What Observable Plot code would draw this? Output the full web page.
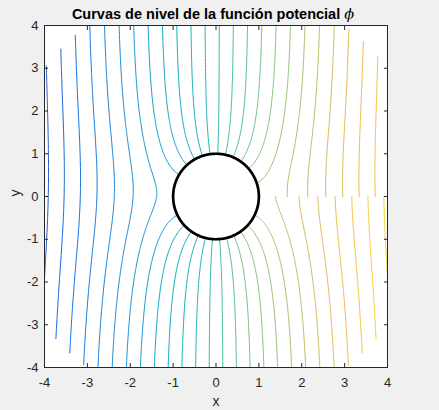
<!DOCTYPE html>
<html><head><meta charset="utf-8">
<script src="https://cdn.jsdelivr.net/npm/d3@7"></script>
<script src="https://cdn.jsdelivr.net/npm/@observablehq/plot@0.6"></script>
<style>
html,body{margin:0;padding:0;background:#f0f0f0;}
#chart svg{display:block;}
</style></head><body><div id="chart"></div>
<script>
// ---- texts & ticks ----
const title = "Curvas de nivel de la función potencial ϕ";
const xLabel = "x";
const yLabel = "y";
const xTicks = [-4, -3, -2, -1, 0, 1, 2, 3, 4];
const yTicks = [-4, -3, -2, -1, 0, 1, 2, 3, 4];
const xDomain = [-4, 4];
const yDomain = [-4, 4];

// ---- contour levels (30 levels) ----
const levels = [-4.605, -4.262, -3.918, -3.575, -3.231, -2.888, -2.544, -2.201, -1.857, -1.514,
  -1.170, -0.827, -0.483, -0.140, 0.204, 0.547, 0.891, 1.234, 1.578, 1.921,
  2.265, 2.608, 2.952, 3.295, 3.638, 3.982, 4.325, 4.669, 5.013, 5.356];
const colorLimits = [-4.949, 5.7];

// ---- potential flow around a cylinder with circulation (polar grid) ----
const U = 1, a = 1, Gamma = 0.5, rMin = 1, rMax = 5;
const nR = 121, nT = 481;

// parula colormap stops
const parula = [[0.2081,0.1663,0.5292],[0.2081,0.2386,0.6771],[0.1253,0.3242,0.8303],[0.0060,0.4086,0.8828],
  [0.0498,0.4586,0.8641],[0.0779,0.5040,0.8384],[0.0641,0.5570,0.8240],[0.0265,0.6137,0.8135],
  [0.0228,0.6535,0.7768],[0.0590,0.6838,0.7254],[0.1453,0.7098,0.6646],[0.2586,0.7317,0.5954],
  [0.3953,0.7459,0.5244],[0.5300,0.7491,0.4661],[0.6473,0.7456,0.4188],[0.7525,0.7384,0.3768],
  [0.8507,0.7299,0.3360],[0.9450,0.7261,0.2886],[0.9990,0.7653,0.2164],[0.9789,0.8271,0.1633],
  [0.9589,0.8949,0.1132],[0.9763,0.9831,0.0538]].map(([r,g,b]) => d3.rgb(r*255, g*255, b*255).formatHex());

const R = d3.range(nR).map(i => rMin + (rMax - rMin) * i / (nR - 1));
const T = d3.range(nT).map(j => 2 * Math.PI * j / (nT - 1));
const phi = (r, t) => U * (r + a * a / r) * Math.cos(t) + Gamma * t / (2 * Math.PI);
const V = T.map(t => R.map(r => phi(r, t)));

function contourLines(level) {
  const pts = new Map(), adj = new Map();
  const edge = (key, i0, j0, i1, j1) => {
    if (!pts.has(key)) {
      const v0 = V[j0][i0], v1 = V[j1][i1], s = (level - v0) / (v1 - v0);
      const r = R[i0] + (R[i1] - R[i0]) * s, t = T[j0] + (T[j1] - T[j0]) * s;
      pts.set(key, [r * Math.cos(t), r * Math.sin(t)]);
    }
    return key;
  };
  const link = (k1, k2) => {
    if (!adj.has(k1)) adj.set(k1, []);
    if (!adj.has(k2)) adj.set(k2, []);
    adj.get(k1).push(k2); adj.get(k2).push(k1);
  };
  for (let j = 0; j < nT - 1; j++) for (let i = 0; i < nR - 1; i++) {
    const v00 = V[j][i], v10 = V[j][i+1], v11 = V[j+1][i+1], v01 = V[j+1][i];
    const e = [];
    if ((v00 > level) !== (v10 > level)) e.push(edge(`h${i},${j}`, i, j, i+1, j));
    if ((v10 > level) !== (v11 > level)) e.push(edge(`v${i+1},${j}`, i+1, j, i+1, j+1));
    if ((v01 > level) !== (v11 > level)) e.push(edge(`h${i},${j+1}`, i, j+1, i+1, j+1));
    if ((v00 > level) !== (v01 > level)) e.push(edge(`v${i},${j}`, i, j, i, j+1));
    if (e.length === 2) link(e[0], e[1]);
    else if (e.length === 4) {
      const c = (v00 + v10 + v11 + v01) / 4;
      if ((c > level) === (v00 > level)) { link(e[0], e[1]); link(e[2], e[3]); }
      else { link(e[0], e[3]); link(e[1], e[2]); }
    }
  }
  const used = new Set();
  const sk = (p, q) => p < q ? p + "|" + q : q + "|" + p;
  const walk = start => {
    const line = [pts.get(start)];
    let cur = start;
    while (true) {
      let next = null;
      for (const n of adj.get(cur)) { const k = sk(cur, n); if (!used.has(k)) { used.add(k); next = n; break; } }
      if (next === null) break;
      line.push(pts.get(next)); cur = next;
    }
    return line;
  };
  const lines = [];
  for (const [k, n] of adj) if (n.length === 1 && !used.has(sk(k, n[0]))) lines.push(walk(k));
  for (const [k, n] of adj) if (n.some(m => !used.has(sk(k, m)))) lines.push(walk(k));
  return lines;
}

const rows = [];
let id = 0;
for (const L of levels) {
  for (const line of contourLines(L)) {
    id++;
    for (const [x, y] of line) rows.push({x, y, id, level: L});
  }
}

const circleAngles = d3.range(0, 361).map(d => d * Math.PI / 180);

const axisColor = "#262626";
const chart = Plot.plot({
  width: 439,
  height: 410,
  marginLeft: 44,
  marginRight: 52,
  marginTop: 25,
  marginBottom: 43,
  style: {fontFamily: "'Liberation Sans', Arial, Helvetica, sans-serif", fontSize: "13px", background: "#f0f0f0", color: axisColor},
  x: {domain: xDomain},
  y: {domain: yDomain},
  color: {type: "linear", domain: colorLimits, interpolate: d3.piecewise(d3.interpolateRgb, parula)},
  marks: [
    Plot.frame({fill: "white", stroke: null}),
    Plot.line(rows, {x: "x", y: "y", z: "id", stroke: "level", strokeWidth: 1, clip: true}),
    Plot.line(circleAngles, {x: t => a * Math.cos(t), y: t => a * Math.sin(t), stroke: "black", strokeWidth: 2.7}),
    Plot.axisX({anchor: "bottom", ticks: xTicks, tickSize: -4, tickPadding: 14, tickFormat: d => String(d), label: null, stroke: axisColor}),
    Plot.axisX({anchor: "top", ticks: xTicks, tickSize: -4, tickFormat: () => "", label: null, stroke: axisColor}),
    Plot.axisY({anchor: "left", ticks: yTicks, tickSize: -4, tickPadding: 10, tickFormat: d => String(d), label: null, stroke: axisColor}),
    Plot.axisY({anchor: "right", ticks: yTicks, tickSize: -4, tickFormat: () => "", label: null, stroke: axisColor}),
    Plot.frame({stroke: axisColor, strokeWidth: 1}),
    Plot.text([xLabel], {frameAnchor: "bottom", dy: 38, fontSize: 14, fill: axisColor}),
    Plot.text([yLabel], {frameAnchor: "left", dx: -29, rotate: -90, fontSize: 14, fill: axisColor}),
    Plot.text([title], {frameAnchor: "top", dy: -17, dx: -3, fontSize: 14.5, fontWeight: "bold", fill: "black"})
  ]
});
document.getElementById("chart").appendChild(chart);

// render the trailing symbol like a TeX italic phi
d3.select(chart).selectAll("text").each(function() {
  const el = this;
  if (el.textContent === title && !el.querySelector("tspan")) {
    el.textContent = title.slice(0, -1);
    d3.select(el).append("tspan").attr("font-family", "'DejaVu Serif', serif").attr("font-style", "italic").attr("font-weight", "normal").text(title.slice(-1));
  }
});
</script>
</body></html>
